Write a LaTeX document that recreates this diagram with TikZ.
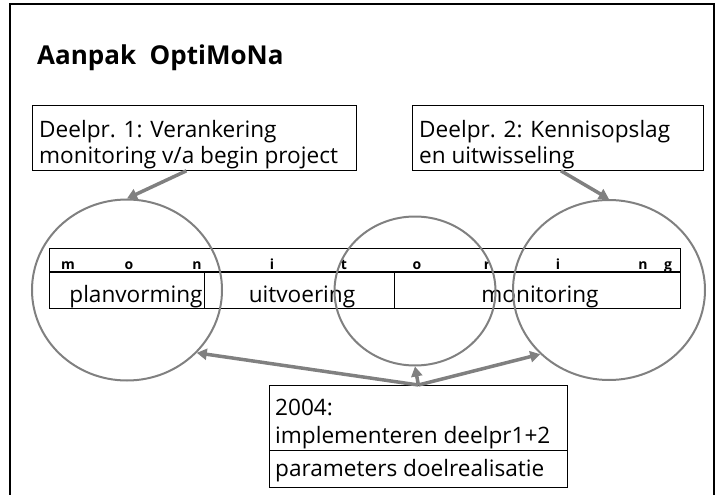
\documentclass[tikz,border=0pt]{standalone}
\usepackage{fontspec}
\setmainfont{Open Sans}
\usetikzlibrary{shapes.geometric,arrows.meta,positioning}
\definecolor{ringgray}{RGB}{128,128,128}

\begin{document}
\begin{tikzpicture}[x=1pt,y=-1pt,
  every node/.style={inner sep=0pt},
  boxframe/.style={draw=black, line width=0.8pt, anchor=north west},
  boxtext/.style={anchor=base west, font=\fontsize{22.6}{27}\selectfont},
  barletter/.style={anchor=base, font=\bfseries\fontsize{14}{16}\selectfont},
  ring/.style={draw=ringgray, line width=2pt, ellipse},
  grayarrow/.style={draw=ringgray, line width=3.5pt, -{Triangle[length=10pt,width=11pt]}}]
\useasboundingbox (0,0) rectangle (716,495);
% frame and title
\draw[line width=1.5pt] (10,495) -- (10,4) -- (714,4) -- (714,495);
\node[anchor=base west, font=\bfseries\fontsize{26}{30}\selectfont] (title) at (37,65) {Aanpak\ \ OptiMoNa};
% the two sub-projects
\node[boxframe, minimum width=324, minimum height=65] (box1) at (32,105) {};
\node[boxtext] (box1a) at (39,138) {Deelpr. 1: Verankering};
\node[boxtext] (box1b) at (39,164) {monitoring v/a begin project};
\node[boxframe, minimum width=291, minimum height=65] (box2) at (412,105) {};
\node[boxtext] (box2a) at (419,138) {Deelpr. 2: Kennisopslag};
\node[boxtext] (box2b) at (419,164) {en uitwisseling};
% the monitoring bar
\node[boxframe, minimum width=631, minimum height=23] (bar) at (49,248) {};
\foreach \x/\c in {68/m,129/o,197/n,272/i,344/t,417/o,487/r,558/i,643/n,668/g}
  \node[barletter] (l\x) at (\x,269) {\c};
\draw[line width=2pt] (bar.south west) -- (bar.south east);
\node[boxframe, minimum width=155, minimum height=37] (plan) at (49,271) {};
\node[boxtext, anchor=base] (plant) at (136,302) {planvorming};
\node[boxframe, minimum width=190, minimum height=37] (uit) at (204,271) {};
\node[boxtext, anchor=base] (uitt) at (302,302) {uitvoering};
\node[boxframe, minimum width=286, minimum height=37] (mon) at (394,271) {};
\node[boxtext, anchor=base] (mont) at (540,302) {monitoring};
% circles
\node[ring, minimum width=190, minimum height=181] (planring) at (127,290) {};
\node[ring, minimum width=161, minimum height=149] (midring) at (415,291) {};
\node[ring, minimum width=192, minimum height=180] (endring) at (609,290) {};
% 2004 box
\node[boxframe, minimum width=298, minimum height=65] (box3) at (269,385) {};
\node[boxtext] (box3a) at (275,415) {2004:};
\node[boxtext] (box3b) at (275,443) {implementeren deelpr1+2};
\node[boxframe, minimum width=298, minimum height=37] (box4) at (269,450) {};
\node[boxtext] (box4a) at (275,476) {parameters doelrealisatie};
% arrows
\draw[grayarrow] ([xshift=-8pt]box1.south) -- (planring.north);
\draw[grayarrow] ([xshift=3pt]box2.south) -- (endring.north);
\draw[grayarrow] (box3.north) -- (planring.-42);
\draw[grayarrow] (box3.north) -- (midring.south);
\draw[grayarrow] (box3.north) -- (endring.-137);
\end{tikzpicture}
\end{document}
